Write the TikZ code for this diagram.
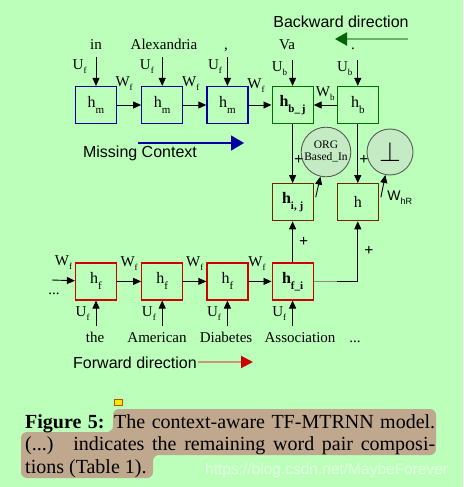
\documentclass[tikz,border=0pt]{standalone}
\usepackage{fontspec}
\setmainfont{Liberation Serif}
\setsansfont{Liberation Sans}
\usepackage{graphicx}
\usetikzlibrary{arrows.meta,positioning}
\definecolor{bgcol}{RGB}{187,255,187}
\definecolor{mblue}{RGB}{0,0,160}
\definecolor{bgreen}{RGB}{0,110,0}
\definecolor{cbrown}{RGB}{110,40,0}
\definecolor{fred}{RGB}{204,0,0}
\definecolor{circfill}{RGB}{197,235,197}
\definecolor{hilite}{RGB}{191,168,142}
\definecolor{lgreen}{RGB}{110,175,110}
\definecolor{dgreen}{RGB}{0,100,0}
\definecolor{ltan}{RGB}{200,150,120}
\newcommand{\lsub}[2]{#1\raisebox{-4pt}{\fontsize{9}{9}\selectfont #2}}
\newcommand{\hsub}[2]{#1\raisebox{-6pt}{\fontsize{11}{11}\selectfont #2}}

\begin{document}
\begin{tikzpicture}[x=1pt,y=-1pt]
%cells are 41x37, about 23pt apart
\tikzstyle{cell}=[draw, line width=1.2pt, minimum width=41pt, minimum height=37pt, inner sep=0pt, font=\fontsize{16}{16}\selectfont, node distance=23pt]
\tikzstyle{word}=[inner sep=1pt, anchor=base, text height=11pt, text depth=3pt, font=\fontsize{15}{15}\selectfont]
\tikzstyle{lab}=[inner sep=1pt, font=\fontsize{15}{15}\selectfont]
\tikzstyle{plus}=[inner sep=1pt, font=\bfseries\fontsize{16}{16}\selectfont]
\tikzstyle{arr}=[-{Triangle[length=8pt,width=7pt]}, line width=0.9pt]
\tikzstyle{gate}=[circle, draw=black!65, fill=circfill, minimum size=46pt, inner sep=0pt, line width=0.9pt]
\tikzstyle{dir}=[font=\sffamily\fontsize{16}{16}\selectfont, inner sep=1pt]
\fill[bgcol] (0,0) rectangle (463,487);
\useasboundingbox (0,0) rectangle (463,487);

\node[cell, draw=mblue](M1) at (96,105) {\hsub{h}{m}};
\node[cell, draw=mblue](M2) [right = 24pt of M1] {\hsub{h}{m}};
\node[cell, draw=mblue](M3) [right = of M2] {\hsub{h}{m}};
\node[cell, draw=bgreen](Hbj) [right = of M3] {\hsub{\textbf{h}}{\textbf{b\_\,j}}};
\node[cell, draw=bgreen](Hb) [right = of Hbj] {\hsub{h}{b}};
\node[cell, draw=cbrown](Hij) [below = 59pt of Hbj] {\hsub{\textbf{h}}{\textbf{i, j}}};
\node[cell, draw=cbrown](Hout) [below = 59pt of Hb] {h};
\node[cell, draw=fred](Hfi) [below = 41pt of Hij] {\hsub{\textbf{h}}{\textbf{f\_i}}};
\node[cell, draw=fred](F3) [left = of Hfi] {\hsub{h}{f}};
\node[cell, draw=fred](F2) [left = of F3] {\hsub{h}{f}};
\node[cell, draw=fred](F1) [left = 24pt of F2] {\hsub{h}{f}};
\node[gate](org) at (326,152) {\fontsize{11.5}{12.5}\selectfont\begin{tabular}{@{}c@{}}ORG\\[-1pt]Based\_In\end{tabular}};
\node[gate](perp) at (390,152) {\scalebox{2.8}{$\perp$}};

%words
\node[word](wIn) at (96,50) {in};
\node[word](wAlex) at (164,50) {Alexandria};
\node[word](wComma) at (226,50) {,};
\node[word](wVa) at (287,50) {Va};
\node[word](wDot) at (353,50) {.};
\node[word](wThe) at (95,342) {the};
\node[word](wAmer) at (157,342) {American};
\node[word](wDiab) at (226,342) {Diabetes};
\node[word](wAssoc) at (300,342) {Association};
\node[word](wMore) at (355,342) {...};
\node[word](wLess) at (54,294) {...};
\coordinate (fin) at (52,280);

%top row
\draw[arr, shorten <=3pt] (M1.north |- wIn.south) -- node[lab, left=8pt, pos=0.4]{\lsub{U}{f}} (M1);
\draw[arr, shorten <=3pt] (M2.north |- wAlex.south) -- node[lab, left=7pt, pos=0.4]{\lsub{U}{f}} (M2);
\draw[arr, shorten <=3pt] (M3.north |- wComma.south) -- node[lab, left=4pt, pos=0.4]{\lsub{U}{f}} (M3);
\draw[arr, shorten <=6pt] (Hbj.north |- wVa.south) -- node[lab, left=4pt, pos=0.45]{\lsub{U}{b}} (Hbj);
\draw[arr, shorten <=6pt] (Hb.north |- wDot.south) -- node[lab, left=4pt, pos=0.45]{\lsub{U}{b}} (Hb);
\draw[arr] (M1) -- node[lab, above=13pt, xshift=-5pt]{\lsub{W}{f}} (M2);
\draw[arr] (M2) -- node[lab, above=13pt, xshift=-4pt]{\lsub{W}{f}} (M3);
\draw[arr] (M3) -- node[lab, above=11pt, xshift=-4pt]{\lsub{W}{f}} (Hbj);
\draw[arr] (Hb) -- node[lab, above=3pt]{\lsub{W}{b}} (Hbj);

%middle
\draw[arr] (Hbj) -- node[plus, right=0pt, pos=0.6]{+} (Hij);
\draw[arr] (Hb) -- node[plus, right=0pt, pos=0.6]{+} (Hout);
\draw[arr] ([xshift=2pt, yshift=5pt]Hij.east) -- (org);
\draw[arr] ([xshift=2pt, yshift=5pt]Hout.east) -- node[pos=0, right=5pt, inner sep=1pt, font=\sffamily\fontsize{14}{14}\selectfont]{\lsub{W}{hR}} (perp);

%bottom row
\draw[arr] (fin) -- node[lab, above=9pt]{\lsub{W}{f}} (F1);
\draw[arr] (F1) -- node[lab, above=9pt]{\lsub{W}{f}} (F2);
\draw[arr] (F2) -- node[lab, above=9pt]{\lsub{W}{f}} (F3);
\draw[arr] (F3) -- node[lab, above=9pt, xshift=-3pt]{\lsub{W}{f}} (Hfi);
\draw[arr, shorten <=4pt] (F1.south |- wThe.north) -- node[lab, left=5pt, pos=0.55]{\lsub{U}{f}} (F1);
\draw[arr, shorten <=4pt] (F2.south |- wAmer.north) -- node[lab, left=5pt, pos=0.55]{\lsub{U}{f}} (F2);
\draw[arr, shorten <=4pt] (F3.south |- wDiab.north) -- node[lab, left=5pt, pos=0.55]{\lsub{U}{f}} (F3);
\draw[arr, shorten <=4pt] (Hfi.south |- wAssoc.north) -- node[lab, left=5pt, pos=0.55]{\lsub{U}{f}} (Hfi);
\draw[arr] (Hfi) -- node[plus, right=5pt]{+} (Hij);
\draw[line width=0.9pt, black!45] (Hfi.east) -- (Hfi.east -| Hb.west);
\draw[arr] (Hfi.east -| Hb.west) -| node[plus, right=5pt, pos=0.75]{+} (Hout);

%direction arrows
\node[dir](bwd) at (341,22) {Backward direction};
\coordinate (bwS) at (408,39);
\coordinate (bwE) at (335,39);
\draw[line width=2pt, lgreen, -{Triangle[length=12pt,width=13pt,color=dgreen]}] (bwS) -- (bwE);
\node[dir](mc) at (140,153) {Missing Context};
\coordinate (mcS) at (138,143);
\coordinate (mcE) at (244,143);
\draw[line width=1.5pt, mblue, -{Triangle[length=13pt,width=15pt]}] (mcS) -- (mcE);
\node[dir](fwd) at (135,363) {Forward direction};
\coordinate (fwS) at (198,362);
\coordinate (fwE) at (253,362);
\draw[line width=2pt, ltan, -{Triangle[length=12pt,width=12pt,color=fred]}] (fwS) -- (fwE);

%caption
\fill[hilite, rounded corners=6pt] (113,409) -- (436,409) -- (436,455) -- (153,455) -- (153,478) -- (21,478) -- (21,432) -- (113,432) -- cycle;
\fill[yellow!90!orange, draw=orange!70!black, line width=0.4pt] (114,399) rectangle (122,405);
\node[anchor=base west, inner sep=0pt, font=\fontsize{20}{20}\selectfont](cap1) at (25,428) {\makebox[410pt][s]{\textbf{Figure 5:} The context-aware TF-MTRNN model.}};
\node[anchor=base west, inner sep=0pt, font=\fontsize{20}{20}\selectfont](cap2) at (25,450.5) {\makebox[410pt][s]{(...)\hspace{5pt} indicates the remaining word pair composi-}};
\node[anchor=base west, inner sep=0pt, font=\fontsize{20}{20}\selectfont](cap3) at (25,473) {tions (Table 1).};
\node[anchor=base west, inner sep=0pt, text=white!55!bgcol, font=\sffamily\fontsize{15.5}{15.5}\selectfont](wm) at (205,474) {https://blog.csdn.net/MaybeForever};
\end{tikzpicture}
\end{document}
